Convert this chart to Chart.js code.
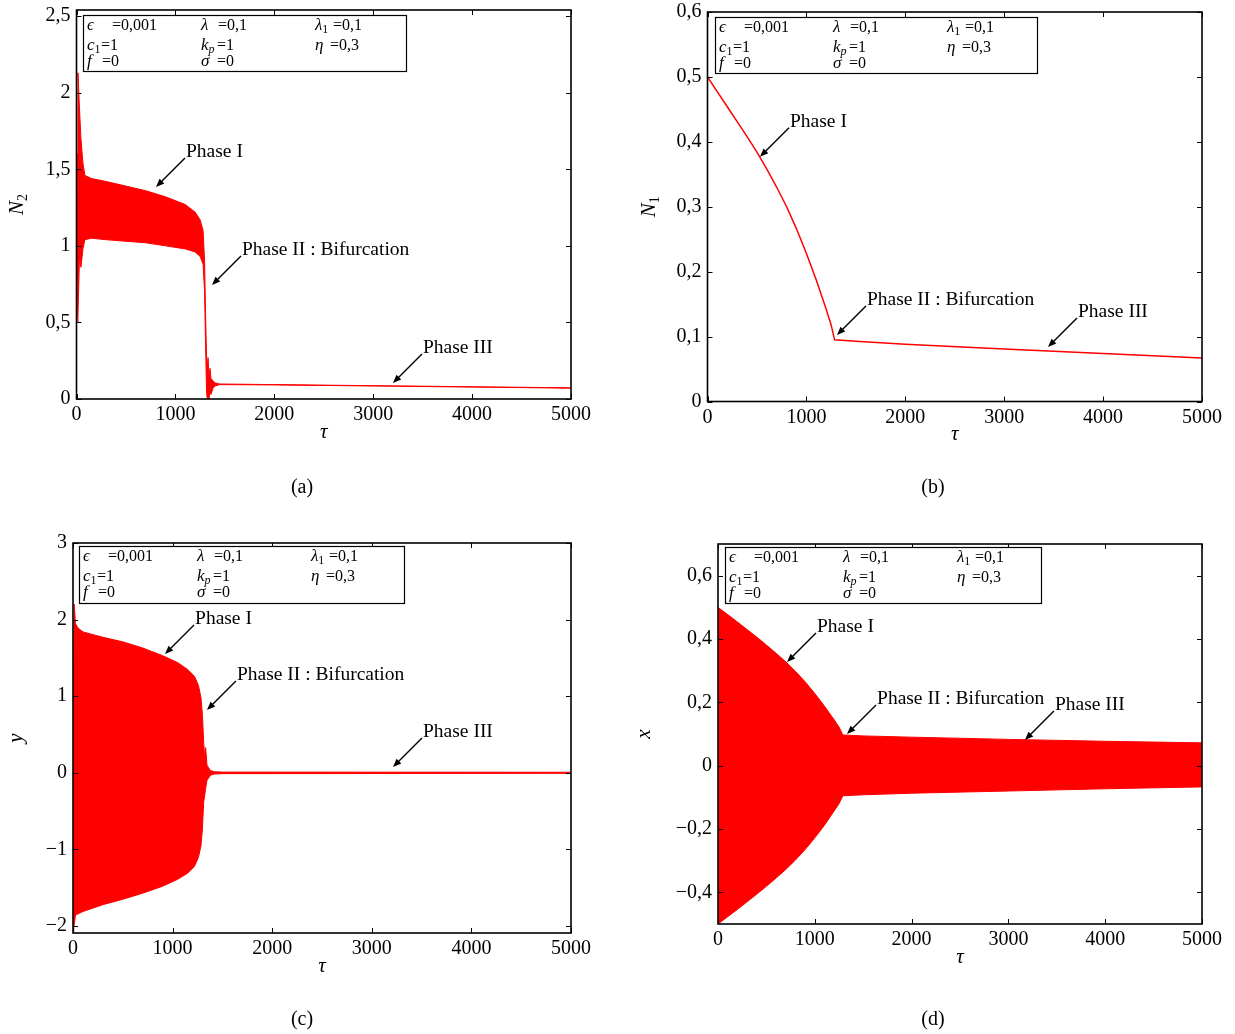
<!DOCTYPE html>
<html>
<head>
<meta charset="utf-8">
<script src="https://cdn.jsdelivr.net/npm/chart.js@4.4.1/dist/chart.umd.min.js"></script>
<style>
html, body { margin: 0; padding: 0; background: #fff; }
#fig { position: relative; width: 1235px; height: 1034px; overflow: hidden; }
#fig canvas { position: absolute; left: 0; top: 0; }
.cap { position: absolute; font: 20px "Liberation Serif", serif; transform: translate(-50%, -50%); }
</style>
</head>
<body>
<div id="fig">
  <canvas id="chartA" width="1235" height="1034"></canvas>
  <canvas id="chartB" width="1235" height="1034"></canvas>
  <canvas id="chartC" width="1235" height="1034"></canvas>
  <canvas id="chartD" width="1235" height="1034"></canvas>
  <div class="cap" style="left:302px;top:486px">(a)</div>
  <div class="cap" style="left:933px;top:486px">(b)</div>
  <div class="cap" style="left:302px;top:1018px">(c)</div>
  <div class="cap" style="left:933px;top:1018px">(d)</div>
</div>
<script>
// --- data (envelopes of the fast oscillation) ---
var tauA    = [0, 8, 15, 30, 45, 65, 85, 150, 300, 500, 700, 900, 1100, 1200, 1250, 1280, 1295, 1305, 1315, 1322, 1330, 1340, 1350, 1360, 1380, 1400, 1450, 2000, 3000, 4000, 5000];
var n2Upper = [0.5, 1.6, 2.13, 1.9, 1.7, 1.54, 1.46, 1.44, 1.42, 1.39, 1.36, 1.32, 1.27, 1.22, 1.17, 1.1, 0.9, 0.55, 0.28, 0.2, 0.27, 0.15, 0.2, 0.13, 0.12, 0.105, 0.098, 0.094, 0.087, 0.08, 0.073];
var n2Lower = [0.5, 0.5, 0.55, 0.92, 0.86, 0.98, 1.04, 1.05, 1.04, 1.03, 1.02, 1.0, 0.98, 0.96, 0.93, 0.88, 0.7, 0.35, 0.05, 0.0, 0.01, 0.0, 0.04, 0.03, 0.07, 0.085, 0.094, 0.092, 0.085, 0.078, 0.071];

var tauB = [0, 100, 200, 300, 400, 500, 600, 700, 800, 900, 1000, 1100, 1200, 1250, 1285, 1500, 2000, 3000, 4000, 5000];
var n1   = [0.5, 0.477, 0.454, 0.431, 0.408, 0.384, 0.358, 0.33, 0.3, 0.266, 0.228, 0.187, 0.142, 0.118, 0.095, 0.093, 0.088, 0.081, 0.074, 0.067];

var tauC   = [0, 5, 12, 25, 50, 100, 300, 500, 700, 900, 1050, 1150, 1220, 1260, 1285, 1300, 1312, 1322, 1332, 1345, 1360, 1380, 1420, 1500, 5000];
var yUpper = [0, 1.2, 2.2, 1.95, 1.89, 1.84, 1.77, 1.71, 1.63, 1.53, 1.44, 1.35, 1.26, 1.14, 0.98, 0.75, 0.4, 0.2, 0.33, 0.1, 0.07, 0.03, 0.015, 0.01, 0.008];
var yLower = [0, -2.09, -1.98, -1.86, -1.84, -1.81, -1.72, -1.65, -1.57, -1.48, -1.39, -1.31, -1.22, -1.1, -0.95, -0.72, -0.38, -0.3, -0.2, -0.1, -0.07, -0.03, -0.015, -0.01, -0.006];

var tauD   = [0, 100, 200, 300, 400, 500, 600, 700, 800, 900, 1000, 1100, 1200, 1250, 1290, 1500, 2000, 3000, 4000, 5000];
var xUpper = [0.5, 0.477, 0.454, 0.43, 0.406, 0.381, 0.355, 0.328, 0.298, 0.265, 0.228, 0.188, 0.145, 0.122, 0.097, 0.094, 0.09, 0.083, 0.077, 0.072];
var xLower = [-0.5, -0.477, -0.454, -0.43, -0.406, -0.381, -0.355, -0.328, -0.298, -0.265, -0.228, -0.188, -0.143, -0.12, -0.095, -0.092, -0.087, -0.08, -0.073, -0.067];

// tick labels
var tauTicks = [0, 1000, 2000, 3000, 4000, 5000];
var ticksA = [0, 0.5, 1, 1.5, 2, 2.5];
var ticksB = [0, 0.1, 0.2, 0.3, 0.4, 0.5, 0.6];
var ticksC = [-2, -1, 0, 1, 2, 3];
var ticksD = [-0.4, -0.2, 0, 0.2, 0.4, 0.6];

// parameter box (same for all panels)
var paramSymbols = [['ϵ', ''], ['λ', ''], ['λ', '1'], ['c', '1'], ['k', 'p'], ['η', ''], ['f', ''], ['σ', '']];
var paramValues  = ['0,001', '0,1', '0,1', '1', '1', '0,3', '0', '0'];

// annotations: text, tau, value at arrow tip
var notesA = [['Phase I', 804, 1.384], ['Phase II : Bifurcation', 1370, 0.744], ['Phase III', 3200, 0.104]];
var notesB = [['Phase I', 531, 0.377], ['Phase II : Bifurcation', 1309, 0.1025], ['Phase III', 3443, 0.084]];
var notesC = [['Phase I', 924, 1.552], ['Phase II : Bifurcation', 1345, 0.82], ['Phase III', 3213, 0.077]];
var notesD = [['Phase I', 713, 0.327], ['Phase II : Bifurcation', 1333, 0.1], ['Phase III', 3171, 0.081]];

var W = 1235, H = 1034;
var RED = '#ff0000';
var serif = '"Liberation Serif", "DejaVu Serif", serif';

var fmt = function(v) {
    return String(v).replace('.', ',').replace('-', '\u2212');
};

var pts = function(xs, ys) {
    return xs.map(function(x, i) { return {x: x, y: ys[i]}; });
};

// italic symbol with optional subscript, returns advance width
var drawSym = function(ctx, x, y, main, sub, size, subItalic) {
    ctx.font = 'italic ' + size + 'px ' + serif;
    ctx.fillText(main, x, y);
    var w = ctx.measureText(main).width;
    if (sub) {
        ctx.font = (subItalic ? 'italic ' : '') + Math.round(size * 0.68) + 'px ' + serif;
        ctx.fillText(sub, x + w, y + size * 0.17);
        w += ctx.measureText(sub).width;
    }
    return w;
};

var framePlugin = {
    id: 'frame',
    afterDatasetsDraw: function(chart, args, o) {
        var ctx = chart.ctx, a = chart.chartArea;
        var xs = chart.scales.x, ys = chart.scales.y;
        ctx.save();
        ctx.strokeStyle = '#000';
        ctx.fillStyle = '#000';

        // inward ticks on all four sides
        ctx.lineWidth = 1;
        ctx.beginPath();
        xs.ticks.forEach(function(t) {
            var px = Math.round(xs.getPixelForValue(t.value)) + 0.5;
            ctx.moveTo(px, a.bottom); ctx.lineTo(px, a.bottom - 5);
            ctx.moveTo(px, a.top); ctx.lineTo(px, a.top + 5);
        });
        ys.ticks.forEach(function(t) {
            var py = Math.round(ys.getPixelForValue(t.value)) + 0.5;
            ctx.moveTo(a.left, py); ctx.lineTo(a.left + 5, py);
            ctx.moveTo(a.right, py); ctx.lineTo(a.right - 5, py);
        });
        ctx.stroke();

        ctx.lineWidth = 1.6;
        ctx.strokeRect(a.left, a.top, a.right - a.left, a.bottom - a.top);

        // parameter box
        var b = o.box;
        ctx.fillStyle = '#fff';
        ctx.fillRect(b.x, b.y, b.w, b.h);
        ctx.lineWidth = 1.2;
        ctx.strokeRect(b.x + 0.5, b.y + 0.5, b.w, b.h);
        ctx.fillStyle = '#000';
        ctx.textBaseline = 'alphabetic';
        ctx.textAlign = 'left';
        var colX = [4, 118, 232], rowY = [15, 35, 51];
        var eqX = [29, 135, 250, 18, 134, 247, 19, 134];
        paramSymbols.forEach(function(s, i) {
            var cx = b.x + colX[i % 3], cy = b.y + rowY[Math.floor(i / 3)];
            drawSym(ctx, cx, cy, s[0], s[1], 17, s[1] === 'p');
            ctx.font = '16px ' + serif;
            ctx.fillText('=' + paramValues[i], b.x + eqX[i], cy);
        });

        // arrows and phase labels
        ctx.lineWidth = 1.4;
        o.notes.forEach(function(n) {
            var tx = xs.getPixelForValue(n[1]), ty = ys.getPixelForValue(n[2]);
            var sx = tx + 29, sy = ty - 29;
            ctx.beginPath();
            ctx.moveTo(sx, sy); ctx.lineTo(tx + 4, ty - 4);
            ctx.stroke();
            var ang = Math.atan2(ty - sy, tx - sx);
            ctx.beginPath();
            ctx.moveTo(tx, ty);
            ctx.lineTo(tx - 9 * Math.cos(ang - 0.38), ty - 9 * Math.sin(ang - 0.38));
            ctx.lineTo(tx - 9 * Math.cos(ang + 0.38), ty - 9 * Math.sin(ang + 0.38));
            ctx.closePath();
            ctx.fill();
            ctx.font = '19.5px ' + serif;
            ctx.fillText(n[0], sx + 1, sy - 1);
        });

        // axis titles
        ctx.textAlign = 'center';
        ctx.textBaseline = 'middle';
        ctx.font = 'italic 21px ' + serif;
        ctx.fillText('τ', (a.left + a.right) / 2, a.bottom + 33);
        ctx.translate(o.yTitleX, (a.top + a.bottom) / 2);
        ctx.rotate(-Math.PI / 2);
        ctx.textAlign = 'left';
        ctx.textBaseline = 'alphabetic';
        ctx.font = 'italic 21px ' + serif;
        var w1 = ctx.measureText(o.yTitle[0]).width;
        ctx.font = '14px ' + serif;
        var w2 = o.yTitle[1] ? ctx.measureText(o.yTitle[1]).width : 0;
        drawSym(ctx, -(w1 + w2) / 2, 7, o.yTitle[0], o.yTitle[1], 21, false);
        ctx.restore();
    }
};

var makeChart = function(id, datasets, p) {
    var zeroPad = function(s) {
        s.paddingLeft = 0; s.paddingRight = 0; s.paddingTop = 0; s.paddingBottom = 0;
    };
    return new Chart(document.getElementById(id), {
        type: 'line',
        data: { datasets: datasets },
        plugins: [framePlugin],
        options: {
            responsive: false,
            animation: false,
            events: [],
            layout: { padding: { left: 0, top: p.area.t, right: W - p.area.r, bottom: 0 } },
            elements: { point: { radius: 0 }, line: { tension: 0 } },
            plugins: {
                legend: { display: false },
                tooltip: { enabled: false },
                frame: { box: p.box, notes: p.notes, yTitle: p.yTitle, yTitleX: p.yTitleX }
            },
            scales: {
                x: {
                    type: 'linear', min: 0, max: 5000,
                    afterBuildTicks: function(s) { s.ticks = tauTicks.map(function(v) { return {value: v}; }); },
                    afterFit: function(s) { s.height = H - p.area.b; zeroPad(s); },
                    grid: { display: false, drawTicks: false },
                    border: { display: false },
                    ticks: { font: { family: serif, size: 20 }, color: '#000', padding: 4, maxRotation: 0, autoSkip: false, callback: fmt }
                },
                y: {
                    type: 'linear', min: p.yMin, max: p.yMax,
                    afterBuildTicks: function(s) { s.ticks = p.yTicks.map(function(v) { return {value: v}; }); },
                    afterFit: function(s) { s.width = p.area.l; zeroPad(s); },
                    grid: { display: false, drawTicks: false },
                    border: { display: false },
                    ticks: { font: { family: serif, size: 20 }, color: '#000', padding: 6, autoSkip: false, callback: fmt }
                }
            }
        }
    });
};

var band = function(xs, up, lo) {
    return [
        { data: pts(xs, up), borderColor: RED, backgroundColor: RED, borderWidth: 1, fill: '+1' },
        { data: pts(xs, lo), borderColor: RED, borderWidth: 1, fill: false }
    ];
};

makeChart('chartA', band(tauA, n2Upper, n2Lower), {
    area: { l: 76.5, t: 10, r: 571, b: 399 }, yMin: 0, yMax: 2.54, yTicks: ticksA,
    box: { x: 83, y: 15, w: 323, h: 56 }, notes: notesA, yTitle: ['N', '2'], yTitleX: 16
});
makeChart('chartB', [{ data: pts(tauB, n1), borderColor: RED, borderWidth: 1.5, fill: false }], {
    area: { l: 707.5, t: 12, r: 1202, b: 401.5 }, yMin: 0, yMax: 0.6, yTicks: ticksB,
    box: { x: 715, y: 17, w: 322, h: 56 }, notes: notesB, yTitle: ['N', '1'], yTitleX: 648
});
makeChart('chartC', band(tauC, yUpper, yLower), {
    area: { l: 73, t: 543, r: 571, b: 933 }, yMin: -2.09, yMax: 3, yTicks: ticksC,
    box: { x: 79, y: 546, w: 325, h: 57 }, notes: notesC, yTitle: ['y', ''], yTitleX: 15
});
makeChart('chartD', band(tauD, xUpper, xLower), {
    area: { l: 718, t: 544, r: 1202, b: 924 }, yMin: -0.5, yMax: 0.7, yTicks: ticksD,
    box: { x: 725, y: 547, w: 316, h: 56 }, notes: notesD, yTitle: ['x', ''], yTitleX: 643
});
</script>
</body>
</html>
